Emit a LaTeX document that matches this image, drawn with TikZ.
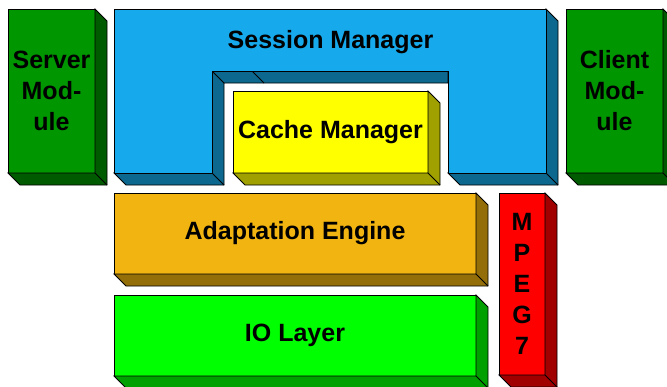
\documentclass[tikz,border=0pt]{standalone}
\usepackage{fontspec}
\setsansfont{Liberation Sans}
\usepackage{tikz}
\usetikzlibrary{calc}
\definecolor{srvfront}{RGB}{0,150,0}
\definecolor{srvside}{RGB}{0,90,0}
\definecolor{sesfront}{RGB}{22,170,236}
\definecolor{sesside}{RGB}{12,104,142}
\definecolor{cachefront}{RGB}{255,255,0}
\definecolor{cacheside}{RGB}{160,160,0}
\definecolor{adaptfront}{RGB}{242,180,16}
\definecolor{adaptside}{RGB}{148,110,8}
\definecolor{iofront}{RGB}{0,255,0}
\definecolor{ioside}{RGB}{0,160,0}
\definecolor{mpegfront}{RGB}{255,0,0}
\definecolor{mpegside}{RGB}{160,0,0}
\tikzset{slab/.style={rectangle, draw, outer sep=0, inner sep=0, align=center,
font=\sffamily\bfseries\fontsize{25}{31}\selectfont}}
\tikzset{edge/.style={line width=.8pt, line join=miter}}
% right and bottom faces of a box, depth 12
\newcommand{\slabsides}[2]{
  \draw[edge, fill=#2] (#1.north east) -- ++(12,12) |- ($(#1.south west)+(12,12)$) -- (#1.south west) -- (#1.south east) -- cycle;
  \draw[edge] (#1.south east) -- ++(12,12);
}

\begin{document}
\begin{tikzpicture}[x=1pt, y=-1pt]
\useasboundingbox (0,0) rectangle (667,386);

\node[slab, edge, fill=srvfront, minimum width = 87, minimum height = 164] (srv) at (51.5, 91) {Server\\Mod-\\ule};
\slabsides{srv}{srvside}

\node[slab, edge, fill=srvfront, minimum width = 97, minimum height = 164] (cli) at (614.5, 91) {Client\\Mod-\\ule};
\slabsides{cli}{srvside}

% session manager, U shaped
\draw[edge, fill=sesside] (546,9) -- (558,21) -- (558,185) -- (460,185) -- (448,173) -- (546,173) -- cycle;
\draw[edge] (546,173) -- (558,185);
\draw[edge, fill=sesside] (212,71) -- (448,71) -- (448,83) -- (224,83) -- (224,185) -- (126,185) -- (114,173) -- (212,173) -- cycle;
\draw[edge] (212,71) -- (224,83);
\draw[edge] (252,71) -- (264,83);
\draw[edge] (212,173) -- (224,185);
\draw[edge, fill=sesfront] (114,9) -- (546,9) -- (546,173) -- (448,173) -- (448,71) -- (212,71) -- (212,173) -- (114,173) -- cycle;
\node[slab, draw=none] (ses) at (330.5, 42) {Session Manager};

\node[slab, edge, fill=cachefront, minimum width = 195, minimum height = 82] (cache) at (330.5, 132) {Cache Manager};
\slabsides{cache}{cacheside}

\node[slab, edge, fill=adaptfront, minimum width = 362, minimum height = 81] (adapt) at (295, 233.5) {Adaptation Engine};
\slabsides{adapt}{adaptside}

\node[slab, edge, fill=iofront, minimum width = 362, minimum height = 81] (io) at (295, 335.5) {IO Layer};
\slabsides{io}{ioside}

\node[slab, edge, fill=mpegfront, minimum width = 46, minimum height = 182] (mpeg) at (522, 284) {M\\P\\E\\G\\7};
\slabsides{mpeg}{mpegside}

\end{tikzpicture}
\end{document}
